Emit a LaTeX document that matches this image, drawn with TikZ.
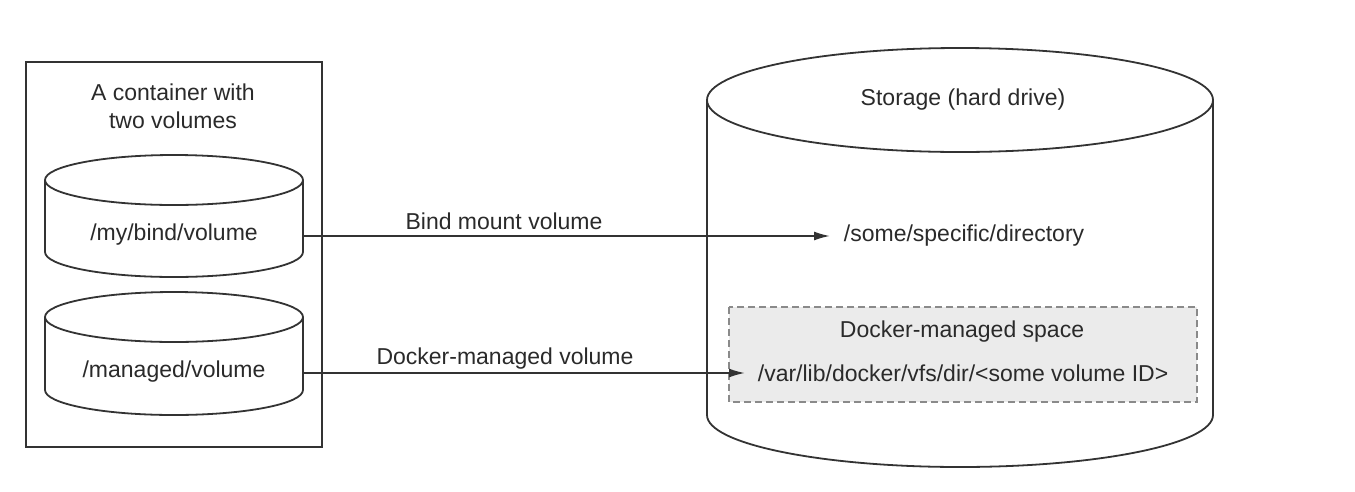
\documentclass[tikz,border=0pt]{standalone}
\usepackage{fontspec}
\setmainfont{Liberation Sans}
\usetikzlibrary{arrows.meta}
\definecolor{ink}{HTML}{333333}
\definecolor{txt}{HTML}{2A2A2A}
\definecolor{boxfill}{HTML}{EBEBEB}
\definecolor{dashc}{HTML}{8A8A8A}
\begin{document}
\begin{tikzpicture}[x=1pt,y=-1pt,
  line width=1.8pt,
  every node/.style={font=\fontsize{23}{28}\selectfont, text=txt},
  lbl/.style={inner sep=0pt},
  conn/.style={draw=ink, -{Latex[length=16pt,width=9pt]}},
  shp/.style={draw=ink, fill=white}]
\useasboundingbox (0,0) rectangle (1355,491);
% container box
\draw[ink] (26,62) rectangle (322,447);
\node[lbl, align=center] (title) at (173,106) {A container with\\two volumes};
% cylinder 1
\draw[shp] (45,180) -- (45,252) arc[start angle=180, end angle=360, x radius=129pt, y radius=25pt] -- (303,180);
\draw[shp] (174,180) ellipse[x radius=129pt, y radius=25pt];
\node[lbl] (bind) at (174,235) {/my/bind/volume};
\coordinate (bindR) at (303,236);
% cylinder 2
\draw[shp] (45,317) -- (45,390) arc[start angle=180, end angle=360, x radius=129pt, y radius=25pt] -- (303,317);
\draw[shp] (174,317) ellipse[x radius=129pt, y radius=25pt];
\node[lbl] (managed) at (174,372) {/managed/volume};
\coordinate (managedR) at (303,373);
% storage cylinder
\draw[shp] (707,100) -- (707,415) arc[start angle=180, end angle=360, x radius=253pt, y radius=52pt] -- (1213,100);
\draw[shp] (960,100) ellipse[x radius=253pt, y radius=52pt];
\node[lbl] (storage) at (963,100) {Storage (hard drive)};
\node[lbl, anchor=west] (dir) at (843,236) {/some/specific/directory};
% docker managed space
\draw[draw=dashc, line width=1.3pt, dash pattern=on 7pt off 4pt, fill=boxfill] (729,307) rectangle (1197,402);
\node[lbl] (space) at (962,332) {Docker-managed space};
\node[lbl, anchor=west] (vardir) at (757,373) {/var/lib/docker/vfs/dir/<some volume ID>};
% connectors
\draw[conn] (bindR) -- ([xshift=-13pt]dir.west |- bindR);
\draw[conn] (managedR) -- ([xshift=-12pt]vardir.west |- managedR);
\node[lbl] (l1) at (504,221) {Bind mount volume};
\node[lbl] (l2) at (505,359) {Docker-managed volume};
\end{tikzpicture}
\end{document}
